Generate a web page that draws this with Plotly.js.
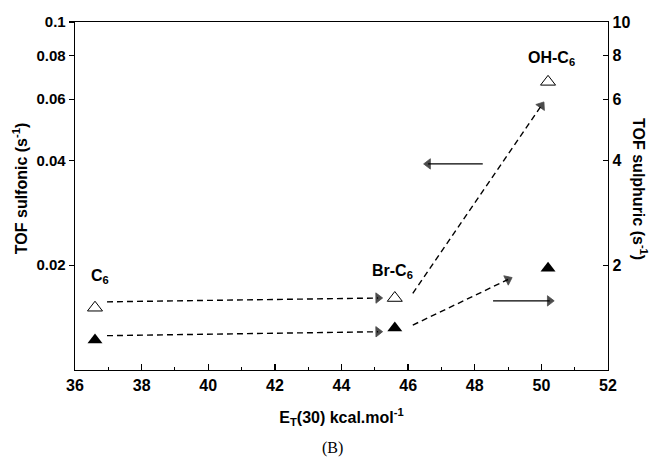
<!DOCTYPE html>
<html>
<head>
<meta charset="utf-8">
<script src="https://cdn.plot.ly/plotly-3.0.1.min.js"></script>
<style>html,body{margin:0;padding:0;background:#fff;}#chart{width:664px;height:463px;}</style>
</head>
<body>
<div id="chart"></div>
<script>
// Data
var catalysts = ['C<sub>6</sub>', 'Br-C<sub>6</sub>', 'OH-C<sub>6</sub>'];
var etValues = [36.6, 45.6, 50.2];               // E_T(30) kcal/mol
var tofSulfonic = [0.0151, 0.0161, 0.0673];      // left axis, open triangles
var tofSulphuric = [1.22, 1.32, 1.96];           // right axis, filled triangles

var xTicks = [36, 38, 40, 42, 44, 46, 48, 50, 52];
var yTicks = [0.02, 0.04, 0.06, 0.08, 0.1];
var yTickText = ['0.02', '0.04', '0.06', '0.08', '0.1'];
var y2Ticks = [2, 4, 6, 8, 10];
var y2TickText = ['2', '4', '6', '8', '10'];

// Guide arrows (annotation geometry)
var dashArrowsLeft = [
  {x: [36.96, 45.1], y: [0.0157, 0.0161]},
  {x: [46.14, 50.0], y: [0.0166, 0.0575]}
];
var dashArrowsRight = [
  {x: [36.96, 45.1], y: [1.255, 1.288]},
  {x: [46.14, 49.0], y: [1.346, 1.82]}
];
var solidArrowLeft = {x: [48.24, 46.6], y: [0.0391, 0.0391]};
var solidArrowRight = {x: [48.55, 50.25], y: [1.58, 1.58]};

var FONT = 'Liberation Sans, Arial, sans-serif';
var traces = [];

function arrowTrace(a, yaxis, dash) {
  return {
    x: a.x, y: a.y, yaxis: yaxis, type: 'scatter', mode: 'lines+markers',
    line: {color: '#000', width: 1.4, dash: dash},
    marker: {symbol: ['circle', 'triangle-up'], size: [0, 9], color: '#000', angleref: 'previous',
             line: {width: 0.8, color: '#000'}},
    hoverinfo: 'skip', showlegend: false
  };
}
dashArrowsLeft.forEach(function(a){ traces.push(arrowTrace(a, 'y', '6px,4px')); });
dashArrowsRight.forEach(function(a){ traces.push(arrowTrace(a, 'y2', '6px,4px')); });
traces.push(arrowTrace(solidArrowLeft, 'y', 'solid'));
traces.push(arrowTrace(solidArrowRight, 'y2', 'solid'));

traces.push({
  x: etValues, y: tofSulfonic, yaxis: 'y', type: 'scatter', mode: 'markers', name: 'sulfonic',
  marker: {symbol: 'triangle-up-open', size: 13, color: '#000', line: {width: 1}}, showlegend: false
});
traces.push({
  x: etValues, y: tofSulphuric, yaxis: 'y2', type: 'scatter', mode: 'markers', name: 'sulphuric',
  marker: {symbol: 'triangle-up', size: 13, color: '#000'}, showlegend: false
});

var labelShift = [[5, 31], [-2, 27], [3, 23]];
var annotations = catalysts.map(function(c, i){
  return {
    x: etValues[i], y: Math.log10(tofSulfonic[i]), xref: 'x', yref: 'y',
    text: '<b>' + c + '</b>', showarrow: false,
    xshift: labelShift[i][0], yshift: labelShift[i][1],
    font: {family: FONT, size: 16, color: '#000'}
  };
});
annotations.push({
  x: 0.484, y: -0.224, xref: 'paper', yref: 'paper', text: '(B)', showarrow: false,
  xanchor: 'center', yanchor: 'middle',
  font: {family: 'Liberation Serif, serif', size: 16, color: '#000'}
});
annotations.push({
  x: -0.103, y: 0.52, xref: 'paper', yref: 'paper', text: '<b>TOF sulfonic (s<sup>-1</sup>)</b>',
  showarrow: false, textangle: -90, xanchor: 'center', yanchor: 'middle',
  font: {family: FONT, size: 16, color: '#000'}
});
annotations.push({
  x: 1.06, y: 0.52, xref: 'paper', yref: 'paper', text: '<b>TOF sulphuric (s<sup>-1</sup>)</b>',
  showarrow: false, textangle: 90, xanchor: 'center', yanchor: 'middle',
  font: {family: FONT, size: 16, color: '#000'}
});

var layout = {
  width: 664, height: 463,
  margin: {l: 75, r: 56, t: 22, b: 93},
  paper_bgcolor: '#fff', plot_bgcolor: '#fff',
  showlegend: false,
  font: {family: FONT, color: '#000'},
  xaxis: {
    range: [36, 52], tickvals: xTicks, ticks: 'inside', ticklen: 6, tickwidth: 1.3, tickcolor: '#000',
    minor: {dtick: 1, ticks: 'inside', ticklen: 3, tickwidth: 1, tickcolor: '#000'},
    showline: true, linewidth: 1.3, linecolor: '#000', mirror: true, showgrid: false, zeroline: false,
    tickfont: {family: FONT, size: 16, weight: 'bold'},
    title: {text: '<b>E<sub>T</sub>(30) kcal.mol<sup>-1</sup></b>', font: {family: FONT, size: 16}, standoff: 19}
  },
  yaxis: {
    type: 'log', range: [-2, -1], tickvals: yTicks, ticktext: yTickText,
    ticks: 'outside', ticklen: 5, tickwidth: 1.3, tickcolor: '#000',
    showline: true, linewidth: 1.3, linecolor: '#000', showgrid: false, zeroline: false,
    tickfont: {family: FONT, size: 15, weight: 'bold'}
  },
  yaxis2: {
    type: 'log', range: [0, 1], overlaying: 'y', side: 'right', tickvals: y2Ticks, ticktext: y2TickText,
    ticks: 'inside', ticklen: 5, tickwidth: 1.3, tickcolor: '#000',
    showline: true, linewidth: 1.3, linecolor: '#000', showgrid: false, zeroline: false,
    tickfont: {family: FONT, size: 16, weight: 'bold'}
  },
  annotations: annotations
};

Plotly.newPlot('chart', traces, layout, {displayModeBar: false, staticPlot: true});
</script>
</body>
</html>
